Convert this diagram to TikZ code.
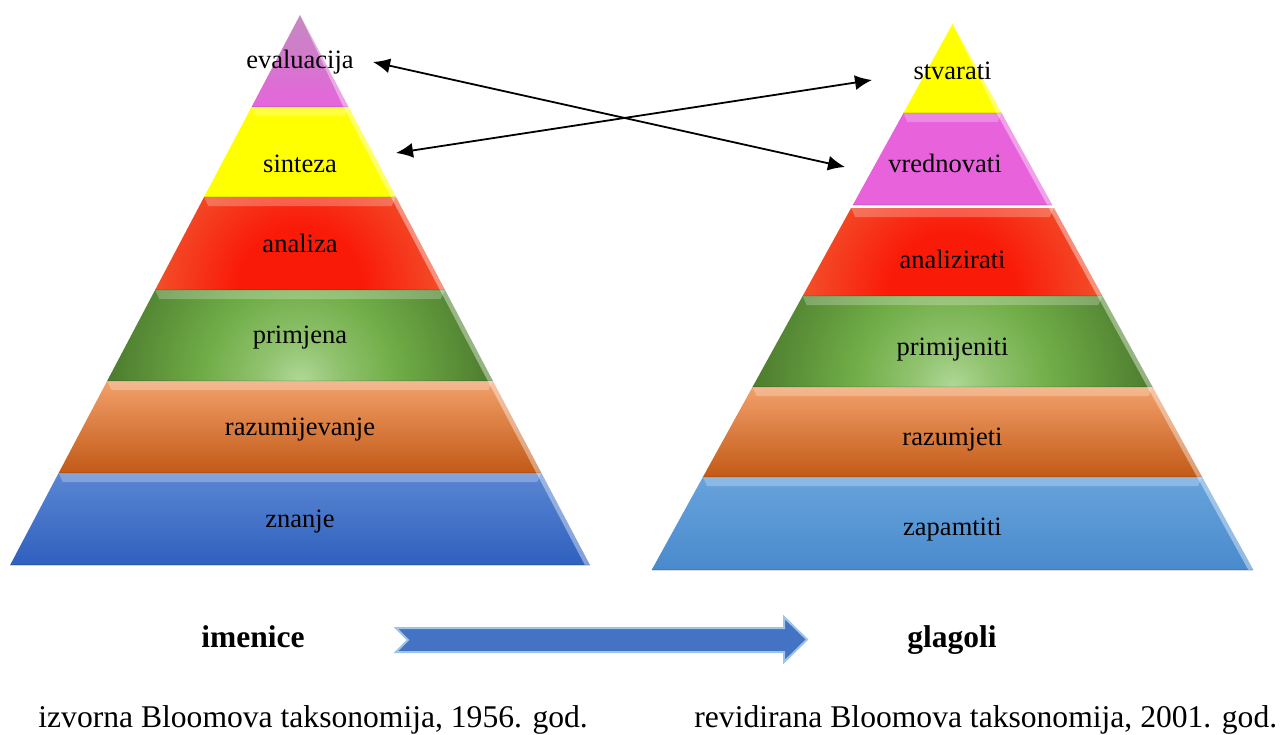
\documentclass[tikz,border=0pt]{standalone}
\usepackage{fontspec}
\setmainfont{Liberation Serif}
\usetikzlibrary{arrows.meta,calc}
\definecolor{evTop}{HTML}{C48AC0}
\definecolor{evBot}{HTML}{E565DB}
\definecolor{vrCol}{HTML}{E862DC}
\definecolor{ylw}{HTML}{FFFF00}
\definecolor{rdC}{HTML}{FA1A08}
\definecolor{rdM}{HTML}{F44222}
\definecolor{rdO}{HTML}{EC7A36}
\definecolor{grL}{HTML}{B0D896}
\definecolor{grM}{HTML}{70AD47}
\definecolor{grD}{HTML}{4A782C}
\definecolor{orTop}{HTML}{F2A06A}
\definecolor{orBot}{HTML}{C25A17}
\definecolor{blTop}{HTML}{5A86D2}
\definecolor{blBot}{HTML}{2F60BE}
\definecolor{lbTop}{HTML}{67A3DC}
\definecolor{lbBot}{HTML}{4A8ACC}
\definecolor{arrFill}{HTML}{4472C4}
\definecolor{arrEdge}{HTML}{9DC3E6}
\pgfdeclareradialshading{redrad}{\pgfpoint{0bp}{0bp}}{color(0bp)=(rdC); color(8bp)=(rdC); color(16bp)=(rdM); color(21bp)=(rdM!50!rdO); color(25bp)=(rdO); color(50bp)=(rdO)}
\pgfdeclareradialshading{greenrad}{\pgfpoint{0bp}{0bp}}{color(0bp)=(grL); color(5bp)=(grL!50!grM); color(12bp)=(grM); color(19bp)=(grM!45!grD); color(25bp)=(grD); color(50bp)=(grD)}
\newcommand\settier[6]{%
  \pgfmathsetmacro\hwA{#3*(#5-#4)}%
  \pgfmathsetmacro\hwB{#3*(#6-#4)}%
  \pgfmathsetmacro\hwC{max(#3*(#5+9-#4)-9,0)}%
  \pgfmathsetmacro\hwE{max(#3*(#5-#4)-5,0)}%
  \pgfmathsetmacro\yC{#5+9}%
  \pgfmathsetmacro\hwD{#3*(#6-#4)-5}%
  \coordinate (#1-tl) at ({#2-\hwA},#5);
  \coordinate (#1-tr) at ({#2+\hwA},#5);
  \coordinate (#1-br) at ({#2+\hwB},#6);
  \coordinate (#1-bl) at ({#2-\hwB},#6);
  \coordinate (#1-itl) at ({#2-\hwC},\yC);
  \coordinate (#1-itr) at ({#2+\hwC},\yC);
  \coordinate (#1-rtr) at ({#2+\hwE},#5);
  \coordinate (#1-ibr) at ({#2+\hwD},#6);
  \coordinate (#1-bc) at (#2,#6);
}
\newcommand\bevel[1]{%
  \fill[white,opacity=.25] (#1-tl)--(#1-tr)--(#1-itr)--(#1-itl)--cycle;
  \fill[white,opacity=.4] (#1-tr)--(#1-br)--(#1-ibr)--(#1-rtr)--cycle;
  \draw[black,opacity=.08,line width=.6pt] (#1-bl)--(#1-br);
}
\newcommand\tierclip[1]{\clip (#1-tl)--(#1-tr)--(#1-br)--(#1-bl)--cycle;}
\tikzset{
  lbl/.style={inner sep=0pt,anchor=base,font=\fontsize{13.25}{15}\selectfont},
  captext/.style={inner sep=0pt,anchor=base west,font=\fontsize{15.8}{19}\selectfont},
  boldtext/.style={inner sep=0pt,anchor=base,font=\fontsize{15.75}{18}\selectfont\bfseries},
  link/.style={line width=0.9pt,{Latex[length=8.5pt,width=7.5pt]}-{Latex[length=8.5pt,width=7.5pt]}},
  bigarrow/.style={fill=arrFill,draw=arrEdge,line width=1pt,line join=miter}
}
\begin{document}
\begin{tikzpicture}[x=0.5pt,y=-0.5pt]
\useasboundingbox (0,0) rectangle (1285,734);
% ---------- left pyramid ----------
\def\sL{0.527}
\settier{L1}{300}{\sL}{15}{15}{107}
\settier{L2}{300}{\sL}{15}{107}{197}
\settier{L3}{300}{\sL}{15}{197}{290}
\settier{L4}{300}{\sL}{15}{290}{381}
\settier{L5}{300}{\sL}{15}{381}{473}
\settier{L6}{300}{\sL}{15}{473}{565}
\shade[top color=evTop,bottom color=evBot] (L1-tl)--(L1-tr)--(L1-br)--(L1-bl)--cycle;
\fill[ylw] (L2-tl)--(L2-tr)--(L2-br)--(L2-bl)--cycle;
\begin{scope}\tierclip{L3}\shade[shading=redrad] (L3-bc) circle[radius=98pt];\end{scope}
\begin{scope}\tierclip{L4}\shade[shading=greenrad] (L4-bc) circle[radius=100pt];\end{scope}
\shade[top color=orTop,bottom color=orBot] (L5-tl)--(L5-tr)--(L5-br)--(L5-bl)--cycle;
\shade[top color=blTop,bottom color=blBot] (L6-tl)--(L6-tr)--(L6-br)--(L6-bl)--cycle;
\bevel{L1}\bevel{L2}\bevel{L3}\bevel{L4}\bevel{L5}\bevel{L6}
\node[lbl] (evaluacija) at (300,68) {evaluacija};
\node[lbl] (sinteza) at (300,172) {sinteza};
\node[lbl] (analiza) at (300,252) {analiza};
\node[lbl] (primjena) at (300,343) {primjena};
\node[lbl] (razumijevanje) at (300,435) {razumijevanje};
\node[lbl] (znanje) at (300,527) {znanje};
% ---------- right pyramid ----------
\def\sR{0.551}
\settier{R1}{952.5}{\sR}{24}{24}{113}
\settier{R2}{952.5}{\sR}{24}{113}{205}
\settier{R3}{952.5}{\sR}{24}{208}{296}
\settier{R4}{952.5}{\sR}{24}{296}{387}
\settier{R5}{952.5}{\sR}{24}{387}{477}
\settier{R6}{952.5}{\sR}{24}{477}{570}
\fill[ylw] (R1-tl)--(R1-tr)--(R1-br)--(R1-bl)--cycle;
\fill[vrCol] (R2-tl)--(R2-tr)--(R2-br)--(R2-bl)--cycle;
\begin{scope}\tierclip{R3}\shade[shading=redrad] (R3-bc) circle[radius=100pt];\end{scope}
\begin{scope}\tierclip{R4}\shade[shading=greenrad] (R4-bc) circle[radius=104pt];\end{scope}
\shade[top color=orTop,bottom color=orBot] (R5-tl)--(R5-tr)--(R5-br)--(R5-bl)--cycle;
\shade[top color=lbTop,bottom color=lbBot] (R6-tl)--(R6-tr)--(R6-br)--(R6-bl)--cycle;
\bevel{R1}\bevel{R2}\bevel{R3}\bevel{R4}\bevel{R5}\bevel{R6}
\node[lbl] (stvarati) at (952.5,79) {stvarati};
\node[lbl] (vrednovati) at (945,172) {vrednovati};
\node[lbl] (analizirati) at (952.5,268) {analizirati};
\node[lbl] (primijeniti) at (952.5,355) {primijeniti};
\node[lbl] (razumjeti) at (952.5,445) {razumjeti};
\node[lbl] (zapamtiti) at (952.5,535) {zapamtiti};
% ---------- crossing arrows ----------
\coordinate (evalR) at (373,62);
\coordinate (vredL) at (845,167);
\coordinate (sintR) at (396,153);
\coordinate (stvL) at (872,80);
\draw[link] (evalR) -- (vredL);
\draw[link] (sintR) -- (stvL);
% ---------- bottom ----------
\node[boldtext] (imenice) at (253,647) {imenice};
\node[boldtext] (glagoli) at (952,647) {glagoli};
\draw[bigarrow] (396,628) -- (784,628) -- (784,617) -- (807,639.5) -- (784,662) -- (784,652) -- (396,652) -- (408,640) -- cycle;
\node[captext] (capL) at (38,727) {izvorna Bloomova taksonomija, 1956. god.};
\node[captext] (capR) at (694,727) {revidirana Bloomova taksonomija, 2001. god.};
\end{tikzpicture}
\end{document}
